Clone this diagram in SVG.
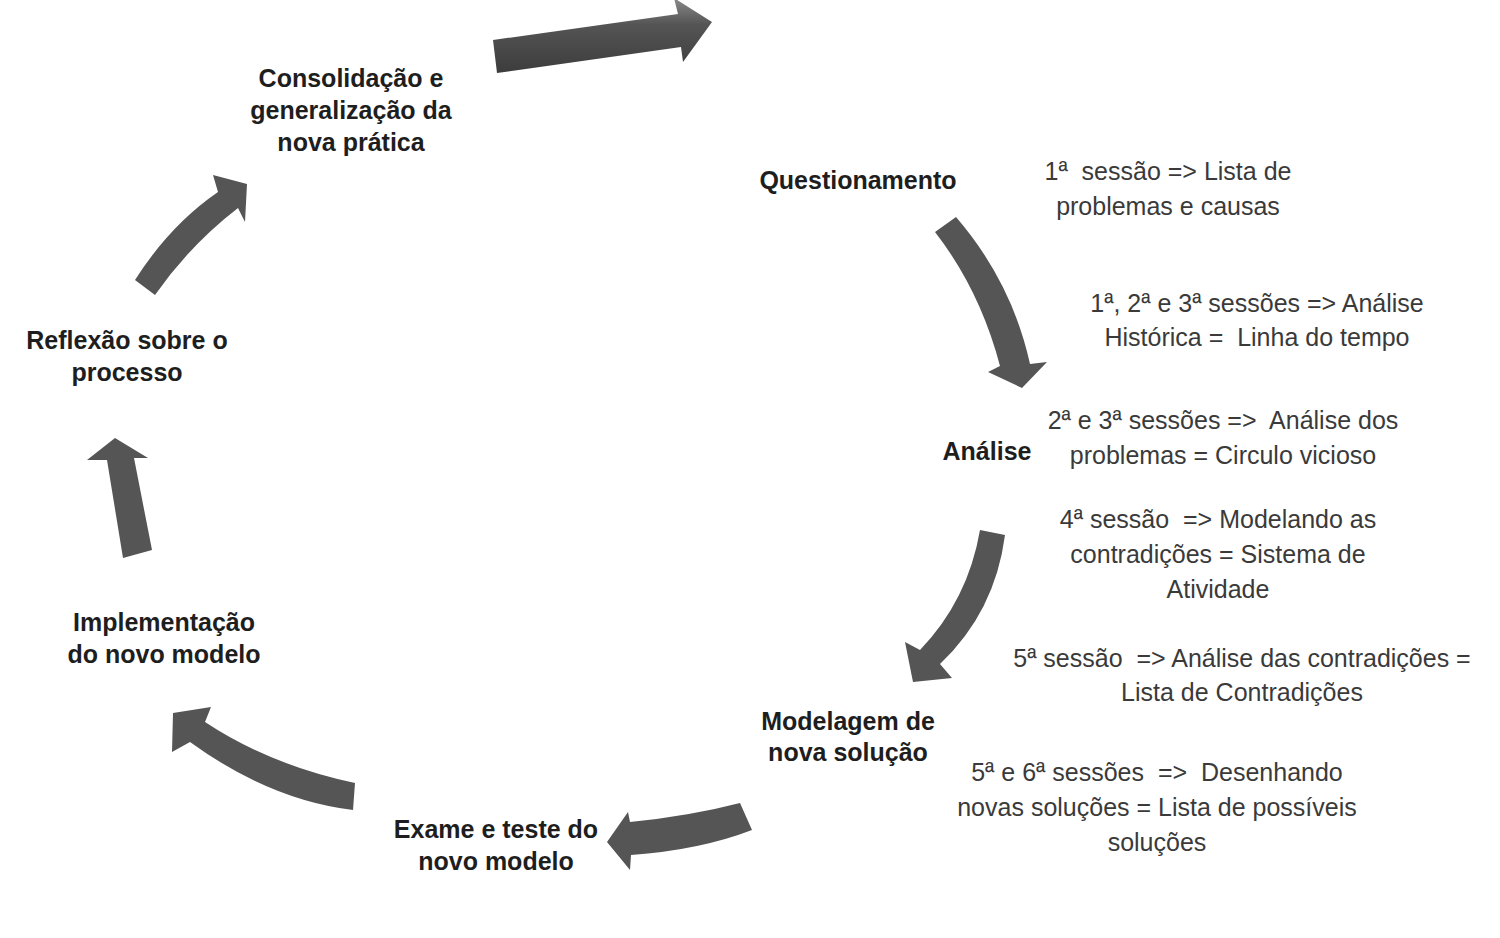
<svg xmlns="http://www.w3.org/2000/svg" width="1500" height="938" viewBox="0 0 1500 938">
  <defs>
    <linearGradient id="topGrad" x1="0" y1="0" x2="0" y2="1">
      <stop offset="0" stop-color="#8a8a8a"/>
      <stop offset="0.35" stop-color="#555"/>
      <stop offset="1" stop-color="#3c3c3c"/>
    </linearGradient>
  </defs>
  <style>
    .lbl { font-family: "Liberation Sans", Arial, sans-serif; font-size: 25px; font-weight: bold; fill: #1e1e1e; text-anchor: middle; }
    .note { font-family: "Liberation Sans", Arial, sans-serif; font-size: 25px; fill: #3a3a3a; text-anchor: middle; white-space: pre; }
    .arr { fill: #555555; stroke: none; }
  </style>
  <rect width="1500" height="938" fill="#ffffff"/>

  <g id="connectors">
    <path id="arrow-top" fill="url(#topGrad)" d="M493,40 L678,14 L674,-2 L712,22 L683,62 L681,47 L497,73 Z"/>
    <path id="arrow-quest-analise" class="arr" d="M935,232 Q980,290 1000,366 L988,372 L1022,388 L1047,362 L1030,364 Q1012,282 956,217 Z"/>
    <path id="arrow-analise-modelagem" class="arr" d="M980,530 Q968,600 920,650 L905,642 L913,682 L952,678 L940,664 Q995,612 1005,535 Z"/>
    <path id="arrow-modelagem-exame" class="arr" d="M740,803 Q690,816 630,822 L628,812 L607,842 L630,870 L631,855 Q700,850 752,830 Z"/>
    <path id="arrow-exame-implementacao" class="arr" d="M355,783 Q270,765 205,722 L211,707 L173,713 L172,752 L190,742 Q270,800 353,810 Z"/>
    <path id="arrow-implementacao-reflexao" class="arr" d="M123,558 L107,460 L87,460 L115,438 L148,458 L134,458 L152,550 Z"/>
    <path id="arrow-reflexao-consolidacao" class="arr" d="M135,280 Q170,225 218,192 L213,175 L247,184 L245,222 L238,208 Q190,245 155,295 Z"/>
  </g>

  <g id="node-consolidacao">
    <text class="lbl" x="351" y="87">Consolidação e</text>
    <text class="lbl" x="351" y="119">generalização da</text>
    <text class="lbl" x="351" y="151">nova prática</text>
  </g>
  <g id="node-questionamento">
    <text class="lbl" x="858" y="189">Questionamento</text>
  </g>
  <g id="node-analise">
    <text class="lbl" x="987" y="460">Análise</text>
  </g>
  <g id="node-modelagem">
    <text class="lbl" x="848" y="730">Modelagem de</text>
    <text class="lbl" x="848" y="761">nova solução</text>
  </g>
  <g id="node-exame">
    <text class="lbl" x="496" y="838">Exame e teste do</text>
    <text class="lbl" x="496" y="870">novo modelo</text>
  </g>
  <g id="node-implementacao">
    <text class="lbl" x="164" y="631">Implementação</text>
    <text class="lbl" x="164" y="663">do novo modelo</text>
  </g>
  <g id="node-reflexao">
    <text class="lbl" x="127" y="349">Reflexão sobre o</text>
    <text class="lbl" x="127" y="381">processo</text>
  </g>

  <g id="note-1">
    <text class="note" x="1168" y="180">1ª  sessão =&gt; Lista de</text>
    <text class="note" x="1168" y="215">problemas e causas</text>
  </g>
  <g id="note-2">
    <text class="note" x="1257" y="312">1ª, 2ª e 3ª sessões =&gt; Análise</text>
    <text class="note" x="1257" y="346">Histórica =  Linha do tempo</text>
  </g>
  <g id="note-3">
    <text class="note" x="1223" y="429">2ª e 3ª sessões =&gt;  Análise dos</text>
    <text class="note" x="1223" y="464">problemas = Circulo vicioso</text>
  </g>
  <g id="note-4">
    <text class="note" x="1218" y="528">4ª sessão  =&gt; Modelando as</text>
    <text class="note" x="1218" y="563">contradições = Sistema de</text>
    <text class="note" x="1218" y="598">Atividade</text>
  </g>
  <g id="note-5">
    <text class="note" x="1242" y="667">5ª sessão  =&gt; Análise das contradições =</text>
    <text class="note" x="1242" y="701">Lista de Contradições</text>
  </g>
  <g id="note-6">
    <text class="note" x="1157" y="781">5ª e 6ª sessões  =&gt;  Desenhando</text>
    <text class="note" x="1157" y="816">novas soluções = Lista de possíveis</text>
    <text class="note" x="1157" y="851">soluções</text>
  </g>
</svg>
